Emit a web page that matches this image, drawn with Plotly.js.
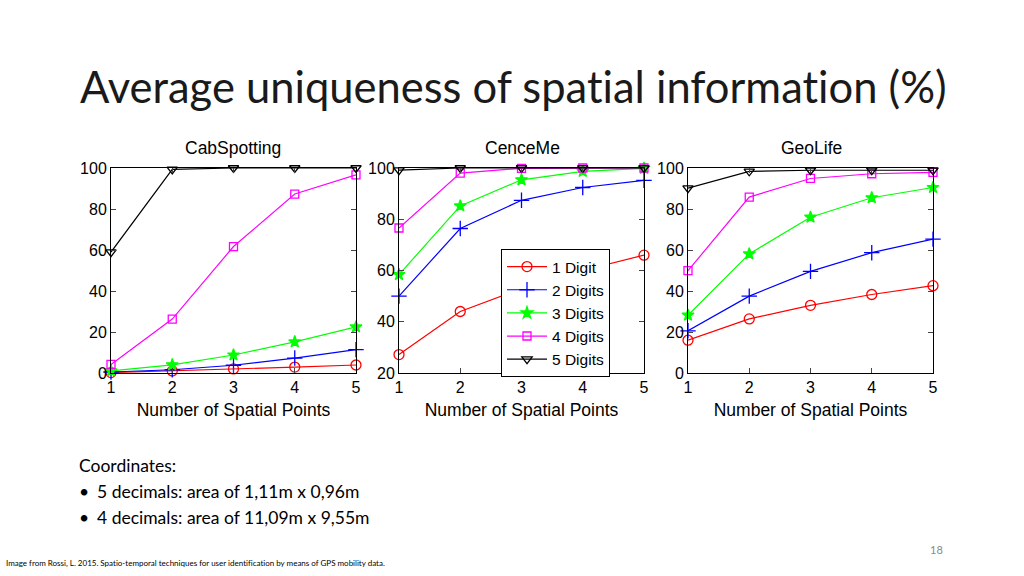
<!DOCTYPE html>
<html>
<head>
<meta charset="utf-8">
<script src="https://cdn.plot.ly/plotly-3.0.1.min.js"></script>
<style>html,body{margin:0;padding:0;background:#fff;}#chart{width:1024px;height:576px;}
text{font-variant-ligatures:none;font-feature-settings:"liga" 0;}</style>
</head>
<body>
<div id="chart"></div>
<script>
var points = [1, 2, 3, 4, 5];
var seriesNames = ["1 Digit", "2 Digits", "3 Digits", "4 Digits", "5 Digits"];
var panelNames = ["CabSpotting", "CenceMe", "GeoLife"];

// CabSpotting
var cab1 = [0.2, 1, 2, 2.9, 3.9];
var cab2 = [0.5, 1.6, 3.8, 7.3, 11.4];
var cab3 = [1, 4, 8.8, 15.2, 22.5];
var cab4 = [4.2, 26.3, 61.7, 87.3, 96.7];
var cab5 = [59, 99.3, 100, 100, 100];

// CenceMe
var cen1 = [27.2, 44, 53, 60, 66];
var cen2 = [50, 76.4, 87.4, 92.4, 95.2];
var cen3 = [58.4, 85.2, 95.4, 98.7, 99.9];
var cen4 = [76.6, 98, 99.9, 100, 100];
var cen5 = [99.2, 100, 100, 100, 100];

// GeoLife
var geo1 = [16, 26.4, 33, 38.3, 42.6];
var geo2 = [20.6, 37.5, 49.6, 58.7, 65.3];
var geo3 = [28.2, 58.1, 76, 85.5, 90.5];
var geo4 = [49.9, 85.8, 94.9, 97.2, 97.9];
var geo5 = [90.2, 98.4, 98.9, 98.9, 98.9];

var yTicksCab = [0, 20, 40, 60, 80, 100];
var yTicksCen = [20, 40, 60, 80, 100];
var yTicksGeo = [0, 20, 40, 60, 80, 100];

var colors = ["#ff0000", "#0000ff", "#00ff00", "#ff00ff", "#000000"];
var symbols = ["circle-open", "cross-thin-open", "star", "square-open", "triangle-down-open"];
var msizes = [10, 11, 9, 8, 9];

var panels = [[cab1, cab2, cab3, cab4, cab5], [cen1, cen2, cen3, cen4, cen5], [geo1, geo2, geo3, geo4, geo5]];
var traces = [];
panels.forEach(function (series, p) {
  series.forEach(function (vals, s) {
    traces.push({
      x: points, y: vals, type: "scatter", mode: "lines+markers",
      name: seriesNames[s],
      xaxis: p === 0 ? "x" : "x" + (p + 1),
      yaxis: p === 0 ? "y" : "y" + (p + 1),
      showlegend: p === 1,
      cliponaxis: false,
      line: {color: colors[s], width: 1.2},
      marker: {symbol: symbols[s], size: msizes[s], color: colors[s], line: {color: colors[s], width: 1.3}}
    });
  });
});

var axFont = {family: "Liberation Sans, Arial, sans-serif", size: 16, color: "#000"};
var axTitleFont = {family: "Liberation Sans, Arial, sans-serif", size: 17.5, color: "#000"};
function xax(d0, d1, anchor) {
  return {domain: [d0, d1], anchor: anchor, range: [1, 5], tickvals: points, ticks: "inside", ticklen: 5,
    mirror: "ticks", showline: true, linecolor: "#000", linewidth: 1, showgrid: false, zeroline: false,
    tickfont: axFont, fixedrange: true,
    title: {text: "Number of Spatial Points", font: axTitleFont, standoff: 8}};
}
function yax(d0, d1, anchor, rng, tv) {
  return {domain: [d0, d1], anchor: anchor, range: rng, tickvals: tv, ticks: "inside", ticklen: 5,
    mirror: "ticks", showline: true, linecolor: "#000", linewidth: 1, showgrid: false, zeroline: false,
    tickfont: axFont, fixedrange: true};
}
var yd = [0.3524, 0.7083];
var titleFont = {family: "Liberation Sans, Arial, sans-serif", size: 17.5, color: "#000"};
var slideFont = {family: "Lato, Open Sans, sans-serif", size: 17.5, color: "#000"};

var layout = {
  width: 1024, height: 576,
  margin: {l: 0, r: 0, t: 0, b: 0},
  paper_bgcolor: "#fff", plot_bgcolor: "#fff",
  showlegend: true,
  legend: {x: 501 / 1024, y: 1 - 249 / 576, xanchor: "left", yanchor: "top",
    bgcolor: "#fff", bordercolor: "#000", borderwidth: 1,
    font: {family: "Liberation Sans, Arial, sans-serif", size: 15.5, color: "#000"},
    tracegroupgap: 0, itemwidth: 40},
  xaxis: xax(111 / 1024, 356 / 1024, "y"),
  yaxis: yax(yd[0], yd[1], "x", [0, 100], yTicksCab),
  xaxis2: xax(399 / 1024, 644 / 1024, "y2"),
  yaxis2: yax(yd[0], yd[1], "x2", [20, 100], yTicksCen),
  xaxis3: xax(688 / 1024, 933 / 1024, "y3"),
  yaxis3: yax(yd[0], yd[1], "x3", [0, 100], yTicksGeo),
  annotations: [
    {text: "Average uniqueness of spatial information (%)", xref: "paper", yref: "paper",
      x: 78 / 1024, y: 1 - 86 / 576, xanchor: "left", yanchor: "middle", showarrow: false,
      font: {family: "Lato, Open Sans, sans-serif", size: 43.5, color: "#1a1a1a"}},
    {text: panelNames[0], xref: "paper", yref: "paper", x: 233 / 1024, y: 1 - 148 / 576,
      xanchor: "center", yanchor: "middle", showarrow: false, font: titleFont},
    {text: panelNames[1], xref: "paper", yref: "paper", x: 522 / 1024, y: 1 - 148 / 576,
      xanchor: "center", yanchor: "middle", showarrow: false, font: titleFont},
    {text: panelNames[2], xref: "paper", yref: "paper", x: 811 / 1024, y: 1 - 148 / 576,
      xanchor: "center", yanchor: "middle", showarrow: false, font: titleFont},
    {text: "Coordinates:", xref: "paper", yref: "paper", x: 77 / 1024, y: 1 - 465 / 576,
      xanchor: "left", yanchor: "middle", showarrow: false, font: slideFont},
    {text: "•", xref: "paper", yref: "paper", x: 77 / 1024, y: 1 - 491 / 576,
      xanchor: "left", yanchor: "middle", showarrow: false, font: slideFont},
    {text: "5 decimals: area of 1,11m x 0,96m", xref: "paper", yref: "paper", x: 95 / 1024, y: 1 - 491 / 576,
      xanchor: "left", yanchor: "middle", showarrow: false, font: slideFont},
    {text: "•", xref: "paper", yref: "paper", x: 77 / 1024, y: 1 - 517 / 576,
      xanchor: "left", yanchor: "middle", showarrow: false, font: slideFont},
    {text: "4 decimals: area of 11,09m x 9,55m", xref: "paper", yref: "paper", x: 95 / 1024, y: 1 - 517 / 576,
      xanchor: "left", yanchor: "middle", showarrow: false, font: slideFont},
    {text: "Image from Rossi, L. 2015. Spatio-temporal techniques for user identification by means of GPS mobility data.",
      xref: "paper", yref: "paper", x: 4 / 1024, y: 1 - 563 / 576,
      xanchor: "left", yanchor: "middle", showarrow: false,
      font: {family: "Lato, Open Sans, sans-serif", size: 8, color: "#000"}},
    {text: "18", xref: "paper", yref: "paper", x: 945 / 1024, y: 1 - 549 / 576,
      xanchor: "right", yanchor: "middle", showarrow: false,
      font: {family: "Lato, Open Sans, sans-serif", size: 11, color: "#888"}}
  ]
};

Plotly.newPlot("chart", traces, layout, {staticPlot: true, displayModeBar: false});
</script>
</body>
</html>
